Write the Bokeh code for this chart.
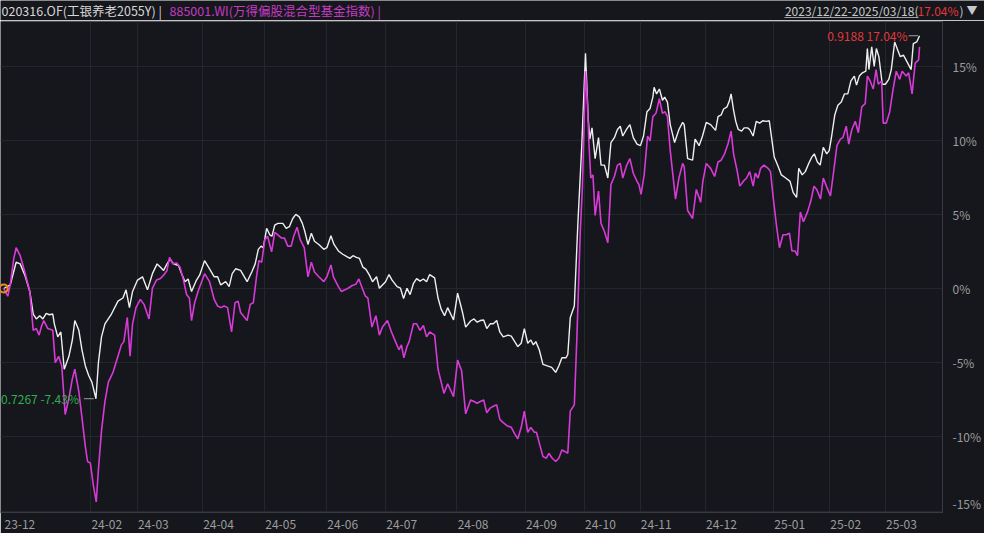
from bokeh.plotting import figure
from bokeh.models import Range1d, FixedTicker, PrintfTickFormatter, Label
from bokeh.layouts import column
from bokeh.core.properties import value
from bokeh.embed import file_html
from bokeh.resources import INLINE

# ---------------- data ----------------
# x = trading-day index counted from 2023/12/22 (day 0), y = cumulative return in %
fund_name = "020316.OF(工银养老2055Y) | "
index_name = "885001.WI(万得偏股混合型基金指数) |"
date_range = "2023/12/22-2025/03/18("
period_return = "17.04%"

month_labels = ["23-12", "24-02", "24-03", "24-04", "24-05", "24-06", "24-07", "24-08",
                "24-09", "24-10", "24-11", "24-12", "25-01", "25-02", "25-03"]
month_start_day = [0, 28, 43, 64, 84, 104, 123, 146, 168, 187, 205, 226, 248, 266, 284]
y_ticks = [-15, -10, -5, 0, 5, 10, 15]

end_nav = 0.9188
min_nav = 0.7267

w_day = [0.0, 2.1, 4.0, 5.3, 6.8, 8.4, 9.5, 10.5, 11.6, 12.6, 13.7, 14.7, 15.8, 16.3, 17.4, 18.4,
         19.5, 21.0, 22.1, 22.9, 24.2, 25.2, 26.3, 27.4, 28.4, 29.7, 30.5, 31.5, 32.6, 34.7, 36.8,
         38.4, 39.4, 40.5, 41.5, 43.1, 44.7, 46.3, 47.9, 49.4, 50.5, 51.5, 52.6, 53.6, 54.7, 56.3,
         57.3, 58.4, 59.4, 60.5, 62.1, 63.1, 64.7, 66.3, 67.8, 68.9, 69.9, 71.5, 72.6, 73.6, 74.7,
         76.3, 78.4, 79.9, 81.0, 82.0, 82.9, 83.6, 84.7, 85.7, 86.4, 87.3, 88.3, 89.9, 91.0, 92.0,
         93.1, 94.1, 95.2, 96.2, 97.0, 98.0, 99.1, 100.1, 101.5, 103.1, 104.1, 105.4, 106.4, 107.8,
         109.2, 110.4, 111.5, 112.5, 113.6, 114.6, 115.7, 116.7, 117.8, 118.8, 120.1, 121.0, 122.0,
         123.0, 124.1, 125.1, 126.7, 127.8, 128.8, 129.9, 130.9, 132.0, 133.0, 134.1, 135.2, 136.2,
         137.2, 138.8, 139.9, 140.9, 142.0, 143.0, 144.9, 146.2, 147.8, 148.8, 150.4, 151.5, 152.5,
         153.5, 154.6, 155.6, 156.7, 157.7, 158.8, 159.8, 160.9, 162.5, 163.5, 164.6, 165.6, 166.7,
         167.7, 168.8, 169.8, 170.6, 171.4, 172.5, 173.7, 175.1, 176.5, 177.8, 178.8, 179.8, 181.1,
         181.7, 182.5, 183.8, 184.9, 186.2, 187.4, 188.3, 188.8, 189.5, 190.5, 191.6, 192.4, 193.5,
         194.6, 195.6, 196.7, 197.7, 198.6, 199.4, 200.7, 201.7, 202.8, 204.0, 205.1, 206.1, 207.2,
         208.2, 209.1, 209.5, 210.3, 211.2, 212.2, 212.9, 213.8, 214.7, 216.1, 217.5, 218.7, 219.2,
         220.3, 221.9, 222.7, 224.0, 225.1, 226.3, 227.7, 229.3, 230.1, 231.1, 231.9, 233.0, 233.7,
         234.3, 235.1, 235.8, 236.6, 237.7, 238.5, 239.6, 240.3, 241.4, 242.4, 243.5, 244.5, 245.6,
         246.6, 247.2, 248.2, 249.5, 250.5, 251.9, 253.3, 254.3, 255.4, 256.1, 257.2, 258.2, 259.3,
         260.3, 261.1, 262.1, 263.0, 264.0, 265.1, 265.9, 266.7, 267.7, 268.7, 269.8, 270.8, 271.9,
         272.9, 274.0, 274.7, 275.6, 276.6, 277.7, 278.2, 278.7, 279.6, 280.4, 281.1, 281.9, 283.0,
         284.0, 285.1, 285.9, 287.0, 288.0, 288.8, 289.8, 290.9, 292.3, 293.0, 294.1, 295.0]
w_val = [0.00, 0.24, 1.77, 1.66, 0.90, -0.20, -1.72, -2.05, -1.83, -2.05, -1.68, -1.77, -1.72, -2.38,
         -3.26, -2.93, -5.44, -4.57, -3.47, -2.16, -2.82, -4.13, -5.22, -5.88, -6.31, -7.43, -5.00,
         -3.26, -2.38, -1.72, -0.85, -0.64, -0.09, -1.29, -0.20, 0.57, 0.79, -0.09, 1.00, 1.66, 1.44,
         1.22, 1.66, 1.98, 1.66, 1.55, 1.00, 0.46, 0.64, -0.20, 0.57, 0.90, 1.88, 1.33, 0.79, 0.79,
         0.24, 0.46, 0.13, 1.00, 1.33, 1.22, 0.46, 1.11, 1.66, 2.64, 2.86, 2.75, 4.06, 3.62, 3.52,
         4.28, 4.39, 4.39, 4.06, 4.17, 4.72, 5.00, 4.83, 4.39, 3.84, 2.97, 3.73, 3.19, 2.97, 2.64,
         2.75, 3.56, 2.97, 2.53, 2.31, 2.16, 2.03, 2.21, 2.10, 2.03, 1.44, 1.29, 0.90, 0.46, 0.79,
         0.02, 0.24, 0.46, 0.94, 0.57, 0.13, 0.02, -0.67, 0.02, -0.41, 0.35, 0.67, 0.50, 0.64, 0.46,
         0.94, 0.72, -0.64, -1.39, -1.83, -1.29, -2.12, -0.31, -1.62, -2.60, -2.19, -2.05, -2.27,
         -2.16, -2.12, -2.70, -2.38, -2.38, -2.16, -2.93, -3.26, -3.14, -3.21, -3.58, -3.91, -3.69,
         -2.70, -3.69, -3.47, -3.80, -3.58, -4.13, -5.11, -5.22, -5.32, -5.65, -5.22, -4.67, -4.67,
         -4.45, -1.95, -1.18, 4.17, 9.63, 15.85, 11.38, 10.07, 10.83, 8.76, 10.17, 8.32, 8.32, 7.45,
         9.84, 10.17, 10.72, 10.94, 10.28, 10.76, 11.05, 10.17, 9.74, 9.63, 10.28, 11.92, 12.14,
         12.90, 13.56, 13.12, 13.45, 12.69, 12.90, 12.57, 11.05, 9.84, 10.72, 11.20, 11.05, 8.76,
         8.65, 10.07, 9.63, 10.28, 11.20, 11.05, 10.66, 11.59, 11.70, 12.10, 12.25, 12.62, 13.12,
         12.03, 11.27, 10.72, 10.61, 10.83, 10.83, 10.72, 10.28, 11.27, 11.15, 11.31, 11.27, 11.31,
         10.39, 8.86, 8.21, 7.66, 7.45, 7.22, 6.46, 6.14, 8.10, 7.66, 7.88, 8.43, 8.86, 9.08, 8.53,
         8.32, 9.52, 9.08, 9.30, 10.28, 11.70, 12.36, 12.57, 13.12, 13.12, 14.00, 14.32, 13.71,
         14.32, 14.54, 14.65, 16.18, 14.76, 16.29, 14.98, 16.18, 15.63, 13.77, 13.77, 14.10, 14.76,
         16.62, 16.07, 15.63, 15.74, 15.31, 14.76, 16.51, 16.62, 17.04]

m_day = [0.0, 1.3, 2.1, 3.2, 4.0, 5.3, 6.8, 8.4, 9.5, 10.5, 11.4, 12.1, 12.9, 14.2, 15.8, 16.6, 17.7,
         18.7, 19.8, 21.0, 22.1, 22.9, 24.2, 25.2, 26.3, 27.0, 27.9, 28.9, 29.8, 30.5, 31.5, 32.6,
         33.7, 35.2, 36.8, 37.9, 38.7, 39.8, 40.7, 41.5, 42.6, 44.0, 45.2, 46.8, 47.9, 49.2, 50.5,
         51.5, 52.6, 53.4, 54.5, 55.7, 56.8, 57.9, 58.9, 59.8, 60.5, 61.5, 62.6, 64.7, 66.3, 67.8,
         68.9, 69.9, 71.0, 72.1, 73.4, 74.5, 75.5, 76.3, 78.4, 79.4, 80.4, 81.5, 82.2, 83.1, 84.1,
         85.0, 86.3, 87.3, 88.3, 89.4, 90.4, 91.5, 92.6, 93.4, 94.5, 95.5, 96.8, 98.0, 99.1, 100.1,
         101.5, 103.1, 104.1, 105.4, 106.2, 107.8, 108.8, 109.9, 110.9, 112.3, 113.4, 114.4, 115.5,
         116.5, 117.3, 118.6, 119.9, 121.0, 122.0, 123.6, 124.9, 126.2, 127.3, 128.1, 128.9, 129.9,
         130.6, 132.0, 133.0, 134.1, 135.2, 136.2, 137.2, 138.8, 139.9, 141.8, 143.0, 144.9, 146.2,
         147.5, 148.8, 150.4, 151.5, 152.5, 153.5, 154.6, 155.6, 156.7, 157.7, 158.8, 159.8, 160.9,
         162.1, 163.5, 164.6, 165.6, 166.7, 167.7, 168.8, 169.8, 170.9, 171.6, 172.7, 173.7, 174.8,
         175.6, 176.7, 177.8, 178.8, 179.8, 180.9, 181.7, 182.5, 183.8, 184.6, 185.7, 186.4, 187.4,
         188.0, 188.5, 189.1, 189.8, 190.5, 191.6, 192.4, 193.5, 194.6, 195.6, 196.7, 197.7, 198.6,
         199.4, 200.7, 201.7, 202.8, 204.0, 204.6, 205.3, 206.3, 207.4, 208.2, 209.1, 210.1, 211.2,
         212.2, 213.0, 213.8, 214.7, 216.4, 217.5, 218.7, 219.2, 220.3, 221.9, 223.1, 224.5, 225.2,
         226.3, 227.7, 229.0, 230.1, 231.1, 232.2, 233.3, 234.3, 235.1, 236.2, 237.1, 238.2, 239.3,
         240.3, 241.4, 242.1, 243.0, 243.8, 244.9, 246.2, 247.0, 247.8, 248.9, 249.9, 251.0, 252.1,
         253.1, 253.9, 254.9, 255.7, 256.6, 257.6, 258.9, 260.0, 261.0, 261.9, 263.1, 264.0, 265.0,
         266.3, 267.4, 268.4, 269.5, 270.3, 271.4, 272.2, 273.2, 274.3, 275.3, 276.4, 277.5, 278.2,
         279.1, 280.1, 281.0, 281.7, 282.8, 283.3, 284.3, 285.4, 286.5, 287.5, 288.6, 289.4, 290.7,
         291.5, 292.6, 293.6, 294.7, 295.0]
m_val = [0.00, -0.52, 0.24, 1.98, 2.75, 2.21, 1.11, -0.20, -2.82, -2.70, -3.14, -2.60, -2.16, -2.70,
         -2.82, -5.00, -4.57, -5.22, -8.49, -7.40, -6.09, -5.44, -6.96, -8.71, -10.67, -11.66,
         -11.77, -13.30, -14.39, -12.20, -9.58, -7.62, -6.31, -5.65, -4.57, -3.80, -3.58, -1.95,
         -4.57, -2.38, -1.29, -0.74, -1.07, -2.05, 0.02, 0.57, 0.67, 0.90, 1.22, 2.10, 1.66, 1.72,
         1.44, 0.57, -0.41, -0.64, -2.16, -0.96, -0.20, 1.00, 0.46, -0.74, -1.18, -1.29, -1.18,
         -1.29, -2.93, -0.96, -0.85, -1.62, -2.16, -1.07, -0.96, 0.90, 1.88, 1.77, 3.29, 3.52, 2.47,
         3.78, 3.62, 3.41, 3.41, 2.86, 2.86, 3.52, 4.13, 3.29, 2.75, 0.79, 1.77, 1.11, 0.79, 0.46,
         0.79, 1.59, 0.79, 0.13, -0.20, -0.09, 0.02, 0.20, 0.28, 0.64, 0.02, -0.52, -0.64, -2.60,
         -1.83, -3.14, -2.60, -2.16, -2.93, -3.58, -4.13, -3.80, -4.67, -3.91, -3.58, -2.38, -2.38,
         -2.82, -2.49, -3.26, -2.93, -3.14, -5.44, -7.07, -6.42, -7.29, -4.83, -5.55, -8.45, -7.51,
         -7.62, -7.73, -7.62, -7.51, -8.38, -8.06, -7.94, -7.84, -8.82, -9.04, -9.25, -9.36, -9.80,
         -10.13, -9.36, -8.27, -9.69, -9.36, -9.69, -9.69, -10.56, -11.33, -11.44, -11.11, -11.44,
         -11.66, -11.44, -10.89, -11.00, -11.11, -8.27, -7.84, -3.47, 3.73, 6.79, 14.65, 12.57,
         9.84, 7.45, 7.66, 4.93, 6.57, 4.39, 3.84, 3.08, 7.01, 7.55, 8.32, 8.43, 7.45, 8.32, 8.76,
         7.77, 7.22, 7.01, 6.35, 7.66, 10.28, 9.95, 11.59, 11.81, 12.79, 11.81, 11.92, 11.59, 9.30,
         6.03, 7.45, 8.43, 8.21, 5.26, 4.72, 6.68, 5.81, 7.22, 8.43, 8.10, 7.55, 8.53, 8.65, 9.08,
         9.74, 10.61, 9.08, 7.99, 6.90, 7.22, 7.45, 7.88, 6.90, 7.77, 7.45, 8.10, 8.32, 8.10, 7.88,
         6.24, 4.28, 2.75, 3.62, 3.62, 3.73, 2.53, 2.53, 2.21, 5.15, 4.50, 5.15, 5.91, 6.90, 6.68,
         6.03, 7.45, 6.90, 6.24, 7.99, 9.63, 10.07, 10.17, 10.94, 9.74, 10.72, 11.27, 10.50, 12.25,
         12.46, 14.32, 13.99, 13.45, 14.76, 13.77, 13.99, 11.15, 11.15, 11.92, 13.45, 14.65, 14.10,
         14.65, 14.32, 14.54, 13.12, 15.19, 15.41, 16.29]

# ---------------- style ----------------
BG = "#15171c"
GRID = "#23262d"
AXIS = "#373a41"
TXT = "#9c9c9c"
WHITE = "#efefef"
MAGENTA = "#d83ad8"
FONT = "Noto Sans CJK SC"

W = 984
HEAD_H = 20
MAIN_H = 533 - HEAD_H


def no_frame_align(fig):
    if "frame_align" in fig.properties():
        fig.frame_align = False


# ---------------- header strip ----------------
hd = figure(width=W, height=HEAD_H, output_backend="svg", toolbar_location=None,
            x_range=Range1d(0, W), y_range=Range1d(0, HEAD_H),
            min_border_left=0, min_border_right=0, min_border_top=0, min_border_bottom=0)
no_frame_align(hd)
hd.axis.visible = False
hd.grid.visible = False
hd.background_fill_color = BG
hd.border_fill_color = BG
hd.outline_line_color = None


def head_text(x, txt, color, align, size="12.5px"):
    hd.text(x=[x], y=[HEAD_H / 2 + 0.5], text=[txt], text_color=color, text_font=value(FONT),
            text_font_size=size, text_align=align, text_baseline="middle")


head_text(1, fund_name, "#d6d6d6", "left")
head_text(169, index_name, "#c43cc4", "left")
head_text(918, date_range, "#c8c8c8", "right", "12px")
head_text(958, period_return, "#e0383c", "right", "12px")
head_text(959, ")", "#c8c8c8", "left", "12px")
head_text(966, "▼", "#c8c8c8", "left", "11px")
hd.segment(x0=[784], x1=[918], y0=[3], y1=[3], line_color="#a0a0a0", line_width=1)

# ---------------- main chart ----------------
p = figure(width=W, height=MAIN_H, output_backend="svg", toolbar_location=None,
           x_range=Range1d(-1.04, 302.4), y_range=Range1d(-15.1, 18.0),
           y_axis_location="right",
           min_border_left=0, min_border_right=37, min_border_top=1, min_border_bottom=21)
no_frame_align(p)
p.background_fill_color = BG
p.border_fill_color = BG
p.outline_line_color = None

# grids
p.xgrid.ticker = FixedTicker(ticks=month_start_day[1:])
p.ygrid.ticker = FixedTicker(ticks=y_ticks)
p.xgrid.grid_line_color = GRID
p.ygrid.grid_line_color = GRID

# x axis: labels sit to the right of each month line
shift = 5.2
label_pos = [d + shift for d in month_start_day]
p.xaxis.ticker = FixedTicker(ticks=label_pos)
p.xaxis.major_label_overrides = {pos: lab for pos, lab in zip(label_pos, month_labels)}
p.xaxis.major_tick_line_color = None
p.xaxis.minor_tick_line_color = None
p.xaxis.axis_line_color = AXIS
p.xaxis.major_label_text_color = TXT
p.xaxis.major_label_text_font = FONT
p.xaxis.major_label_text_font_size = "12px"
p.xaxis.major_label_standoff = 1

# y axis (right); the bottom label is lifted to stay inside the frame
edge = y_ticks[0] + 0.5
ax_ticks = [edge] + y_ticks[1:]
p.yaxis.ticker = FixedTicker(ticks=ax_ticks)
p.yaxis.formatter = PrintfTickFormatter(format="%d%%")
p.yaxis.major_label_overrides = {edge: f"{y_ticks[0]}%"}
p.yaxis.axis_line_color = AXIS
p.yaxis.major_tick_line_color = None
p.yaxis.minor_tick_line_color = None
p.yaxis.major_label_text_color = TXT
p.yaxis.major_label_text_font = FONT
p.yaxis.major_label_text_font_size = "12px"
p.yaxis.major_label_standoff = 4

# series
p.line(w_day, w_val, line_color=WHITE, line_width=1.4)
p.line(m_day, m_val, line_color=MAGENTA, line_width=1.6)

# start marker
p.scatter([w_day[0]], [w_val[0]], marker="circle", size=8, fill_color=None,
          line_color="#f08c1e", line_width=2.2)

# end annotation
p.segment(x0=[w_day[-1] - 3.5], x1=[w_day[-1] - 0.5], y0=[w_val[-1]], y1=[w_val[-1]],
          line_color="#a0a0a0", line_width=1)
p.add_layout(Label(x=w_day[-1], y=w_val[-1], x_offset=-12, text=f"{end_nav} {w_val[-1]:.2f}%",
                   text_color="#e0383c", text_font=FONT, text_font_size="12px",
                   text_align="right", text_baseline="middle"))

# minimum annotation
imin = w_val.index(min(w_val))
p.segment(x0=[w_day[imin] - 3.9], x1=[w_day[imin] - 0.7], y0=[w_val[imin]], y1=[w_val[imin]],
          line_color="#a0a0a0", line_width=1)
p.add_layout(Label(x=w_day[imin], y=w_val[imin], x_offset=-17, text=f"{min_nav} {w_val[imin]:.2f}%",
                   text_color="#2fae4e", text_font=FONT, text_font_size="12px",
                   text_align="right", text_baseline="middle"))

layout = column(hd, p, spacing=0)
open("out.html", "w").write(file_html(layout, INLINE))
